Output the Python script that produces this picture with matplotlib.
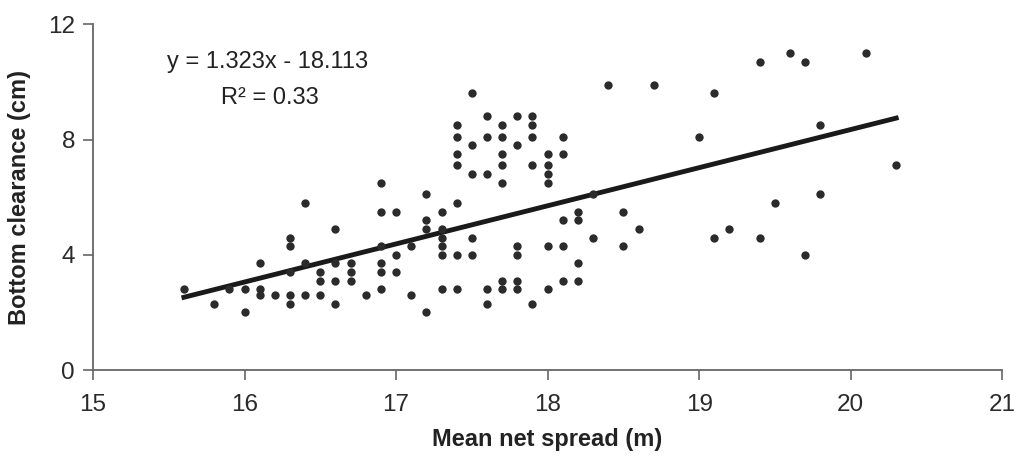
import matplotlib.pyplot as plt
import numpy as np

# mean net spread (m) and bottom clearance (cm)
spread = [15.6, 15.8, 15.9, 16.0, 16.0, 16.1, 16.1, 16.1, 16.2,
          16.3, 16.3, 16.3, 16.3, 16.3, 16.4, 16.4, 16.4,
          16.5, 16.5, 16.5, 16.6, 16.6, 16.6, 16.6, 16.7, 16.7, 16.7, 16.8,
          16.9, 16.9, 16.9, 16.9, 16.9, 16.9, 17.0, 17.0, 17.0, 17.1, 17.1,
          17.2, 17.2, 17.2, 17.2, 17.3, 17.3, 17.3, 17.3, 17.3, 17.3,
          17.4, 17.4, 17.4, 17.4, 17.4, 17.4, 17.4,
          17.5, 17.5, 17.5, 17.5, 17.5,
          17.6, 17.6, 17.6, 17.6, 17.6,
          17.7, 17.7, 17.7, 17.7, 17.7, 17.7, 17.7,
          17.8, 17.8, 17.8, 17.8, 17.8, 17.8,
          17.9, 17.9, 17.9, 17.9, 17.9,
          18.0, 18.0, 18.0, 18.0, 18.0, 18.0,
          18.1, 18.1, 18.1, 18.1, 18.1,
          18.2, 18.2, 18.2, 18.2, 18.3, 18.3, 18.4, 18.5, 18.5, 18.6, 18.7,
          19.0, 19.1, 19.1, 19.2, 19.4, 19.4, 19.5, 19.6, 19.7, 19.7,
          19.8, 19.8, 20.1, 20.3]
clearance = [2.8, 2.3, 2.8, 2.8, 2.0, 3.7, 2.8, 2.6, 2.6,
             4.6, 4.3, 3.4, 2.6, 2.3, 5.8, 3.7, 2.6,
             3.4, 3.1, 2.6, 4.9, 3.7, 3.1, 2.3, 3.7, 3.4, 3.1, 2.6,
             6.5, 5.5, 4.3, 3.7, 3.4, 2.8, 5.5, 4.0, 3.4, 4.3, 2.6,
             6.1, 5.2, 4.9, 2.0, 5.5, 4.9, 4.6, 4.3, 4.0, 2.8,
             8.5, 8.1, 7.5, 7.1, 5.8, 4.0, 2.8,
             9.6, 7.8, 6.8, 4.6, 4.0,
             8.8, 8.1, 6.8, 2.8, 2.3,
             8.5, 8.1, 7.5, 7.1, 6.5, 3.1, 2.8,
             8.8, 7.8, 4.3, 4.0, 3.1, 2.8,
             8.8, 8.5, 8.1, 7.1, 2.3,
             7.5, 7.1, 6.8, 6.5, 4.3, 2.8,
             8.1, 7.5, 5.2, 4.3, 3.1,
             5.5, 5.2, 3.7, 3.1, 6.1, 4.6, 9.9, 5.5, 4.3, 4.9, 9.9,
             8.1, 9.6, 4.6, 4.9, 10.7, 4.6, 5.8, 11.0, 10.7, 4.0,
             8.5, 6.1, 11.0, 7.1]

slope = 1.323
intercept = -18.113
r2 = 0.33
xticks = [15, 16, 17, 18, 19, 20, 21]
yticks = [0, 4, 8, 12]

plt.rcParams['font.family'] = ['Liberation Sans', 'DejaVu Sans']

fig = plt.figure(figsize=(10.16, 4.58), dpi=100)
ax = fig.add_axes([0.0915, 0.192, 0.895, 0.755])

ax.scatter(spread, clearance, s=36, color='#2b2b2b', zorder=3, linewidths=0)

xl = np.array([min(spread), max(spread)])
ax.plot(xl, slope * xl + intercept, color='#1a1a1a', lw=3.5, zorder=2)

ax.text(16.15, 10.7, 'y = 1.323x - 18.113', ha='center', va='center',
        fontsize=17, color='#222222')
ax.text(16.17, 9.45, 'R\u00b2 = ' + f'{r2:.2f}', ha='center', va='center',
        fontsize=17, color='#222222')

ax.set_xlim(15, 21)
ax.set_ylim(0, 12)
ax.set_xticks(xticks)
ax.set_yticks(yticks)
ax.tick_params(labelsize=17.5, labelcolor='#2a2a2a', color='#666666',
               length=7, width=1.2, direction='out')
ax.tick_params(axis='x', pad=10)
ax.tick_params(axis='y', pad=6)
for s in ['top', 'right']:
    ax.spines[s].set_visible(False)
for s in ['left', 'bottom']:
    ax.spines[s].set_color('#666666')
    ax.spines[s].set_linewidth(1.3)

ax.set_xlabel('Mean net spread (m)', fontsize=17, fontweight='bold', color='#222222', labelpad=9)
ax.set_ylabel('Bottom clearance (cm)', fontsize=17, fontweight='bold', color='#222222', labelpad=12)

fig.savefig('out.png', dpi=100)
